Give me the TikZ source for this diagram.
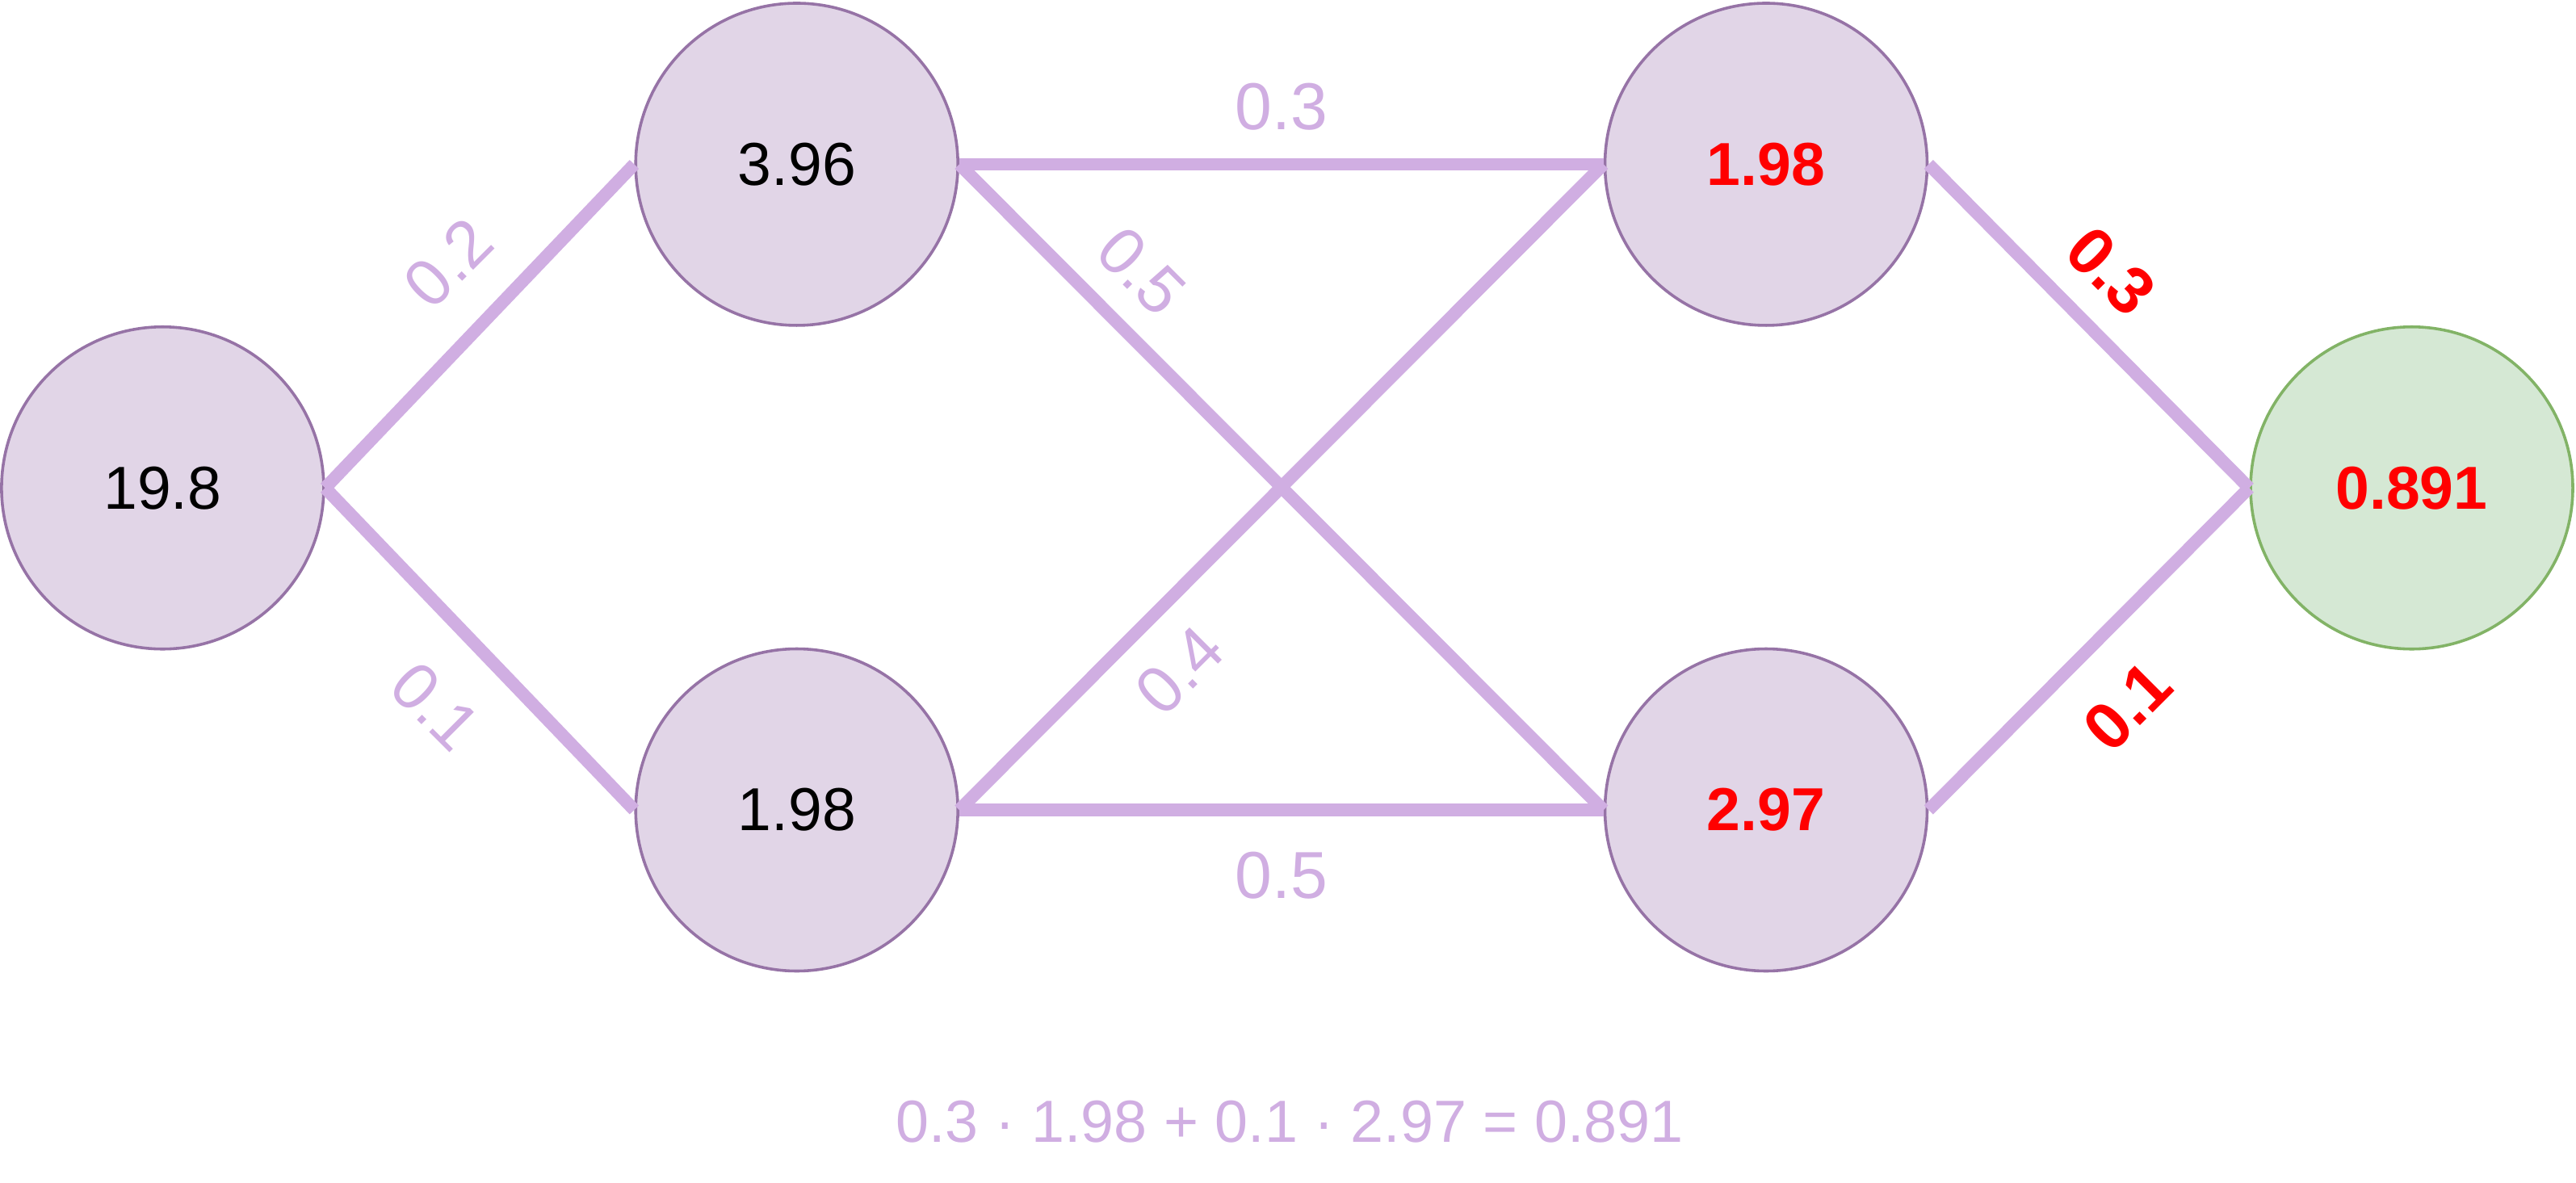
\documentclass[tikz,border=0pt]{standalone}
\usepackage{fontspec}
\setmainfont{Liberation Sans}
\definecolor{pfill}{HTML}{E1D5E7}
\definecolor{pdraw}{HTML}{9673A6}
\definecolor{gfill}{HTML}{D5E8D4}
\definecolor{gdraw}{HTML}{82B366}
\definecolor{edgec}{HTML}{D0AEE2}
\tikzset{
 neuron/.style={circle,draw=pdraw,fill=pfill,line width=0.5pt,minimum size=1.96cm,inner sep=0pt,font=\fontsize{10.5}{12}\selectfont},
 outn/.style={neuron,draw=gdraw,fill=gfill},
 conn/.style={draw=edgec,line width=2.2pt},
 wlab/.style={text=edgec,font=\fontsize{11.5}{13}\selectfont,inner sep=1pt},
 rlab/.style={text=red,font=\fontsize{11.5}{13}\selectfont\bfseries,inner sep=1pt}
}
\begin{document}
\begin{tikzpicture}[x=0.01cm,y=-0.01cm]
\useasboundingbox (0,0) rectangle (1568,720);
\node[neuron] (A) at (99,297) {19.8};
\node[neuron] (B) at (485,100) {3.96};
\node[neuron] (C) at (485,493) {1.98};
\node[neuron] (D) at (1075,100) {\textcolor{red}{\bfseries 1.98}};
\node[neuron] (E) at (1075,493) {\textcolor{red}{\bfseries 2.97}};
\node[outn] (F) at (1468,297) {\textcolor{red}{\bfseries 0.891}};
\draw[conn] (A.east) -- (B.west);
\draw[conn] (A.east) -- (C.west);
\draw[conn] (B.east) -- (D.west);
\draw[conn] (B.east) -- (E.west);
\draw[conn] (C.east) -- (D.west);
\draw[conn] (C.east) -- (E.west);
\draw[conn] (D.east) -- (F.west);
\draw[conn] (E.east) -- (F.west);
\node[wlab,rotate=45] (l1) at (273,160) {0.2};
\node[wlab,rotate=-45] (l2) at (265,430) {0.1};
\node[wlab] (l3) at (780,65) {0.3};
\node[wlab,rotate=-45] (l4) at (695,165) {0.5};
\node[wlab,rotate=45] (l5) at (718,408) {0.4};
\node[wlab] (l6) at (780,533) {0.5};
\node[rlab,rotate=-45] (l7) at (1285,165) {0.3};
\node[rlab,rotate=45] (l8) at (1295,430) {0.1};
\node[wlab,font=\fontsize{10.3}{12}\selectfont] (f) at (785,683) {0.3 · 1.98 + 0.1 · 2.97 = 0.891};
\end{tikzpicture}
\end{document}
